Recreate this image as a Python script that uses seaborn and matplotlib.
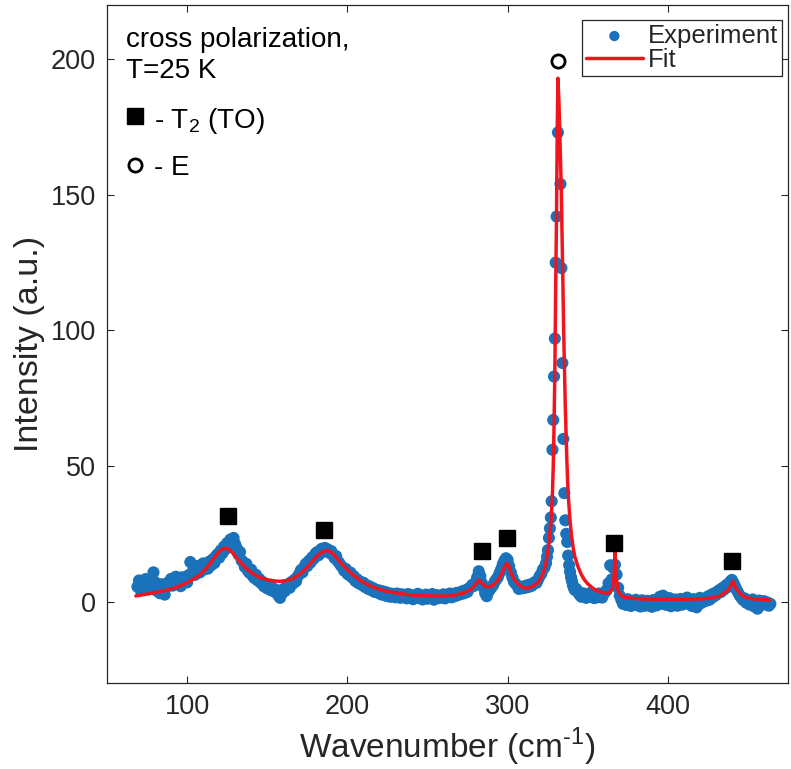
import numpy as np
import pandas as pd
import matplotlib
matplotlib.use("Agg")
import matplotlib.pyplot as plt
import seaborn as sns

# ---------------- data ----------------
exp_x = list(range(69, 324)) + [
    324.0, 324.6, 325.2, 325.8, 326.4, 327.0, 327.5, 328.0, 328.5, 329.0,
    329.5, 330.0, 330.6, 331.4, 333.0, 333.6, 334.2, 334.8, 335.4, 336.0,
    336.6, 337.2, 337.8, 338.4, 339.0, 339.6, 340.2, 340.8, 341.4, 342.0,
] + list(range(343, 465))

exp_y = [
    5.5, 7.8, 4.2, 6.9, 5.1, 8.3, 6.2, 4.6, 7.5, 6.0,
    10.8, 7.2, 4.0, 5.8, 3.1, 6.4, 4.7, 2.6, 5.3, 7.0,
    6.1, 8.4, 5.9, 7.6, 9.2, 6.8, 8.1, 5.7, 9.0, 7.4,
    8.6, 7.1, 9.8, 14.6, 10.5, 12.3, 9.9, 11.7, 13.2, 10.8,
    12.6, 14.1, 11.9, 13.5, 12.2, 14.8, 13.4, 15.6, 14.2, 16.8,
    17.5, 16.2, 18.9, 17.8, 20.3, 19.4, 21.6, 20.8, 22.9, 21.7,
    23.5, 21.2, 19.6, 17.4, 18.3, 15.2, 14.6, 12.8, 13.9, 11.4,
    10.6, 11.8, 9.4, 8.7, 9.9, 7.8, 8.4, 6.9, 7.3, 5.6,
    6.5, 4.9, 5.8, 4.3, 5.2, 3.8, 4.5, 3.1, 2.2, 1.4,
    2.8, 4.6, 3.9, 5.7, 6.4, 5.1, 7.2, 6.6, 8.1, 7.5,
    9.3, 10.2, 11.6, 10.8, 12.7, 13.9, 13.1, 15.0, 14.4, 16.3,
    15.8, 17.6, 18.2, 17.1, 18.9, 19.5, 18.4, 19.8, 18.7, 19.2,
    17.9, 18.6, 17.2, 16.1, 16.8, 15.0, 14.2, 13.3, 12.6, 11.4,
    12.1, 10.3, 9.8, 10.7, 8.9, 9.4, 7.6, 8.3, 6.8, 7.4,
    6.2, 7.0, 5.4, 6.1, 4.7, 5.6, 4.2, 5.0, 3.6, 4.4,
    3.3, 4.1, 2.7, 3.8, 2.4, 3.5, 2.0, 3.1, 1.8, 2.9,
    2.2, 1.6, 3.0, 2.3, 1.4, 2.7, 1.9, 2.5, 1.2, 2.8,
    1.7, 2.4, 0.9, 2.1, 1.5, 2.9, 1.3, 2.2, 0.8, 1.9,
    2.6, 1.1, 2.0, 1.6, 2.8, 0.7, 1.8, 2.4, 1.3, 2.1,
    1.5, 2.7, 1.2, 2.3, 1.9, 3.0, 1.6, 2.5, 2.0, 3.2,
    2.4, 3.4, 2.8, 3.9, 3.1, 4.3, 3.6, 4.9, 5.4, 6.2,
    5.8, 7.1, 9.0, 11.2, 9.4, 6.8, 5.2, 3.1, 2.0, 3.6,
    4.5, 5.3, 6.1, 7.4, 8.2, 9.1, 10.6, 12.0, 13.8, 15.1,
    16.0, 15.4, 13.1, 10.8, 8.9, 7.3, 6.6, 5.9, 4.7, 5.4,
    4.9, 5.6, 5.1, 6.0, 5.4, 6.3, 5.8, 6.7, 7.2, 6.9,
    8.1, 9.4, 10.2, 11.8, 12.6,
    14.2, 16.5, 19.0, 23.5, 27.0, 31.0, 37.0, 56.0, 67.0, 83.0,
    97.0, 125.0, 142.0, 173.0, 154.0, 123.0, 88.0, 60.0, 40.0, 30.0,
    25.0, 22.0, 17.0, 13.5, 11.0, 9.0, 7.5, 6.0, 5.0, 4.3,
    4.6, 3.4, 2.5, 1.8, 3.1, 2.2, 1.4, 2.7, 1.9, 3.3,
    2.1, 1.3, 2.8, 1.6, 3.0, 2.3, 1.5, 2.9, 3.6, 4.4,
    6.8, 13.4, 8.2, 12.4, 13.6, 10.0, 5.1, 2.2, 0.6, -0.8,
    0.4, -1.2, 0.9, -0.5, -1.6, 0.2, -0.9, 0.7, -1.3, -0.3,
    -1.8, 0.5, -0.7, -1.5, 0.3, -1.1, -0.2, -1.9, 0.6, -0.6,
    -1.4, -0.1, 1.8, -0.8, 2.2, 0.4, -1.2, -0.4, 1.3, -1.7,
    0.1, -0.9, 0.8, -1.5, -0.3, 1.0, -1.1, 0.3, -0.6, 1.5,
    -0.8, 0.4, -1.6, 0.9, -0.2, -2.1, 0.6, 1.4, -0.5, 0.2,
    1.1, 0.3, 1.9, 0.7, 2.5, 1.6, 3.1, 2.4, 3.7, 4.2,
    3.5, 5.0, 4.4, 5.8, 6.3, 5.5, 7.4, 8.0, 6.9, 5.6,
    4.3, 3.2, 2.1, 1.4, 0.6, 1.2, -0.4, 0.3, -1.1, -0.5,
    0.8, -1.8, -0.2, -2.6, 0.4, -1.3, -0.6, 0.2, -1.0, -0.3,
    -1.5, -0.8,
]

fit_x = [68, 75, 80, 87, 93, 100, 104, 108, 112, 116, 119, 121, 123, 125, 127,
         129, 132, 135, 138, 141, 145, 150, 155, 158, 162, 166, 170, 174, 178,
         181, 184, 187, 190, 193, 196, 200, 204, 208, 212, 216, 222, 229, 236,
         243, 252, 261, 267, 273, 277, 280, 282, 284, 286, 288, 291, 294, 296,
         298, 299.6, 301, 302.5, 304.5, 307, 310, 313, 316, 318, 320, 322, 323,
         324, 325, 326, 327, 327.5, 328, 328.5, 329, 329.5, 330, 330.5, 331,
         331.4, 332, 332.5, 333, 333.5, 334, 334.5, 335, 335.5, 336, 336.5, 337,
         337.5, 338, 339, 340, 341, 342, 344, 346, 348, 350, 353, 356, 359, 362,
         364, 365.5, 366.5, 367.1, 367.8, 369, 371, 374, 380, 390, 400, 410, 420,
         427, 432, 436, 438.5, 440.6, 442.5, 445, 448, 452, 458, 463.5]
fit_y = [2.1, 2.8, 3.4, 4.2, 5.2, 7.0, 8.3, 9.9, 12.3, 15.4, 17.8, 19.0, 19.7,
         19.6, 18.8, 17.6, 15.3, 13.4, 11.7, 10.3, 9.0, 8.1, 7.6, 7.5, 7.8, 8.5,
         10.0, 12.0, 14.8, 16.8, 18.2, 18.9, 18.3, 16.4, 14.2, 11.8, 9.6, 7.9,
         6.5, 5.4, 4.2, 3.3, 2.7, 2.3, 2.1, 2.0, 2.4, 3.3, 4.4, 6.4, 7.9, 6.8,
         5.6, 5.4, 6.0, 7.9, 9.8, 12.6, 14.2, 12.8, 10.0, 7.9, 6.2, 5.1, 5.0, 5.8,
         6.5, 7.8, 10.3, 12.0, 14.5, 18.0, 22.5, 29.0, 34.0, 40.0, 50.0, 65.0,
         85.0, 115.0, 140.0, 175.0, 193.0, 185.0, 175.0, 163.0, 152.0, 136.0,
         118.0, 100.0, 85.0, 72.0, 62.0, 52.0, 44.0, 38.0, 29.5, 24.0, 19.5,
         16.5, 12.8, 10.0, 8.0, 6.6, 5.0, 4.0, 3.4, 3.1, 3.4, 5.0, 9.5, 18.3,
         9.0, 3.8, 2.2, 1.5, 1.1, 0.9, 0.9, 0.9, 1.0, 1.3, 2.0, 3.4, 5.0, 7.5,
         5.0, 3.0, 1.7, 1.1, 0.8, 0.6]

t2_x = [125.4, 185.4, 284.3, 299.6, 366.3, 439.8]
t2_y = [31.7, 26.6, 18.6, 23.4, 21.7, 14.9]
e_x = [331.2]
e_y = [199.4]

xticks = [100, 200, 300, 400]
yticks = [0, 50, 100, 150, 200]

# ---------------- styling ----------------
sns.set_theme(style="white")
plt.rcParams['font.family'] = ['Liberation Sans', 'DejaVu Sans']
plt.rcParams['mathtext.fontset'] = 'custom'
plt.rcParams['mathtext.rm'] = 'Liberation Sans'

AX_COL = '#262626'
BLUE = '#1a72ba'
RED = '#f0141f'

fig = plt.figure(figsize=(7.91, 7.69), dpi=100)
ax = fig.add_axes([107 / 791, 1 - 683 / 769, (788 - 107) / 791, (683 - 5) / 769])

df_exp = pd.DataFrame({'x': exp_x, 'y': exp_y})
df_fit = pd.DataFrame({'x': fit_x, 'y': fit_y})

sns.scatterplot(data=df_exp, x='x', y='y', ax=ax, color=BLUE, s=76,
                linewidth=0, edgecolor='none', label='Experiment', zorder=2)
sns.lineplot(data=df_fit, x='x', y='y', ax=ax, color=RED, lw=2.5,
             estimator=None, sort=False, label='Fit', zorder=3)

ax.plot(t2_x, t2_y, 's', ms=11, mfc='black', mec='black', mew=1, zorder=4)
ax.plot(e_x, e_y, 'o', ms=9.5, mfc='white', mec='black', mew=2, zorder=4)

ax.set_xlim(50, 475)
ax.set_ylim(-30, 220)
ax.set_xticks(xticks)
ax.set_yticks(yticks)
ax.tick_params(direction='in', length=5, width=0.8, colors=AX_COL,
               labelsize=19.5, top=True, right=True, bottom=True, left=True,
               labelcolor=AX_COL, pad=8)
for sp in ax.spines.values():
    sp.set_visible(True)
    sp.set_color(AX_COL)
    sp.set_linewidth(0.9)

ax.set_xlabel('Wavenumber (cm$^{\\mathregular{\u20101}}$)', fontsize=24,
              color=AX_COL, labelpad=4)
ax.set_ylabel('Intensity (a.u.)', fontsize=24.5, color=AX_COL, labelpad=4)

# annotations
ax.text(0.028, 0.9385, 'cross polarization,', transform=ax.transAxes,
        fontsize=20, va='baseline', ha='left', color='black')
ax.text(0.028, 0.8919, 'T=25 K', transform=ax.transAxes,
        fontsize=20, va='baseline', ha='left', color='black')
ax.plot([0.0415], [0.836], 's', ms=11, mfc='black', mec='black', mew=1,
        transform=ax.transAxes, clip_on=False)
ax.text(0.0684, 0.818, r'- T$_\mathregular{2}$ (TO)', transform=ax.transAxes,
        fontsize=20, va='baseline', ha='left', color='black')
ax.plot([0.0415], [0.764], 'o', ms=9.5, mfc='white', mec='black', mew=2,
        transform=ax.transAxes, clip_on=False)
ax.text(0.0684, 0.749, '- E', transform=ax.transAxes,
        fontsize=20, va='baseline', ha='left', color='black')

leg = ax.legend(loc='upper right', bbox_to_anchor=(0.991, 0.978), borderaxespad=0,
                fontsize=18.5, frameon=True, fancybox=False, framealpha=1,
                edgecolor=AX_COL, borderpad=0.15, labelspacing=0.02,
                handlelength=2.2, handletextpad=0.2, markerscale=0.85)
leg.get_frame().set_linewidth(0.9)

fig.savefig('out.png', dpi=100)
